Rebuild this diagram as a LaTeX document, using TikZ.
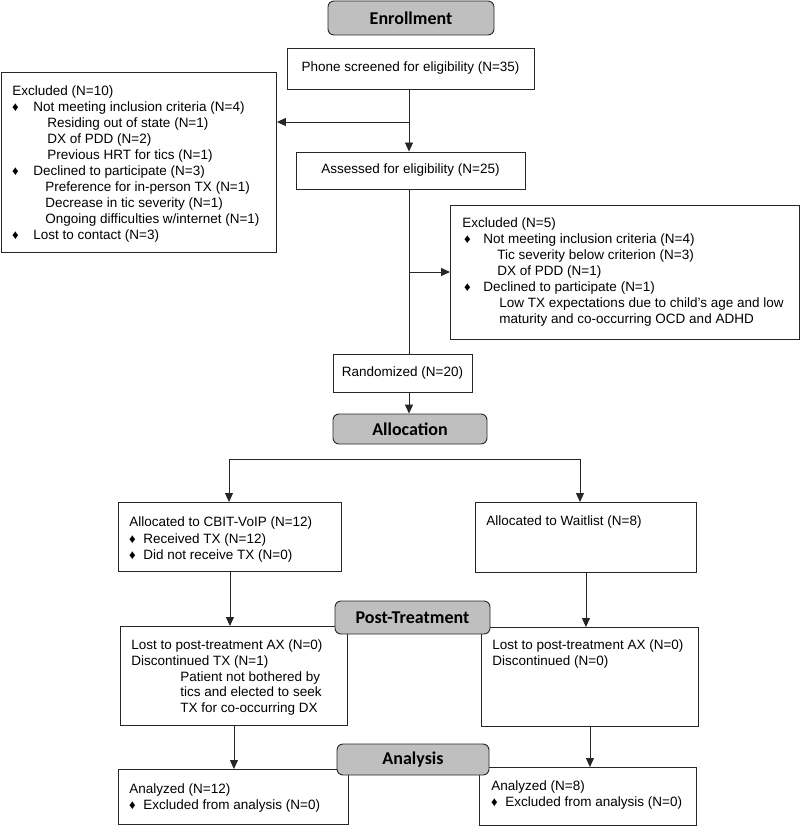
\documentclass[tikz,border=0pt]{standalone}
\usepackage{fontspec}
\setmainfont{Liberation Sans}
\newfontfamily\headfont{Carlito}
\usepackage{tikz}
\usetikzlibrary{arrows.meta}
\colorlet{linegray}{black!85}
\colorlet{headgray}{gray!50}
\newcommand\dmd{\makebox[0pt]{\fontsize{13}{13}\selectfont\raisebox{0pt}{♦}}}
\newcommand\boxtext[4]{\parbox[c][#2][t]{#1}{\rule{0pt}{#3}#4}}
\newcommand\indt[1]{\hspace*{#1}}
\newcommand\bull[2]{\hspace*{#1}\dmd\hspace*{\dimexpr#2-#1\relax}}
\tikzstyle{line}=[line width=.9pt,draw=linegray]
\tikzstyle{arr} =[line,-{Triangle[length=9pt,width=8pt]}]
\tikzstyle{arr2}=[line,{Triangle[length=9pt,width=8pt]}-{Triangle[length=9pt,width=8pt]}]
\tikzstyle{box} =[line,inner sep=0pt,anchor=north west,font=\fontsize{13.5}{16}\selectfont]
\tikzstyle{cbox}=[line,inner sep=0pt,font=\fontsize{13.5}{16}\selectfont]
\tikzstyle{head}=[line,fill=headgray,rounded corners=6pt,inner sep=0pt,font=\headfont\bfseries\fontsize{18}{18}\selectfont]

\begin{document}
\begin{tikzpicture}[x=1pt,y=-1pt]
	\useasboundingbox (0,0) rectangle (800,826);
	% enrollment
	\node[cbox,minimum width=247pt,minimum height=41pt] (phone) at (410.5,68.5) {Phone screened for eligibility (N=35)};
	\node[box] (exclA) at (1,72) {\boxtext{275pt}{180pt}{23.5pt}{%
		\indt{11pt}Excluded (N=10)\\
		\bull{14pt}{32pt}Not meeting inclusion criteria (N=4)\\
		\indt{46pt}Residing out of state (N=1)\\
		\indt{46pt}DX of PDD (N=2)\\
		\indt{46pt}Previous HRT for tics (N=1)\\
		\bull{14pt}{32pt}Declined to participate (N=3)\\
		\indt{44pt}Preference for in-person TX (N=1)\\
		\indt{44pt}Decrease in tic severity (N=1)\\
		\indt{44pt}Ongoing difficulties w/internet (N=1)\\
		\bull{14pt}{32pt}Lost to contact (N=3)}};
	\node[cbox,minimum width=229pt,minimum height=37pt] (assess) at (410.5,170.5) {Assessed for eligibility (N=25)};
	\node[box] (exclB) at (450,205) {\boxtext{349pt}{134pt}{22pt}{%
		\indt{12pt}Excluded (N=5)\\
		\bull{17pt}{33pt}Not meeting inclusion criteria (N=4)\\
		\indt{47pt}Tic severity below criterion (N=3)\\
		\indt{47pt}DX of PDD (N=1)\\
		\bull{17pt}{33pt}Declined to participate (N=1)\\
		\indt{49pt}Low TX expectations due to child’s age and low\\
		\indt{49pt}maturity and co-occurring OCD and ADHD}};
	\node[cbox,minimum width=139pt,minimum height=38pt] (random) at (402.5,373) {Randomized (N=20)};
	% allocation
	\node[box,font=\fontsize{13.5}{16.7}\selectfont] (cbit) at (118,502) {\boxtext{223pt}{69pt}{24pt}{%
		\indt{11pt}Allocated to CBIT-VoIP (N=12)\\
		\bull{14pt}{25pt}Received TX (N=12)\\
		\bull{14pt}{25pt}Did not receive TX (N=0)}};
	\node[box] (wait) at (475,502) {\boxtext{221pt}{70pt}{23pt}{%
		\indt{11pt}Allocated to Waitlist (N=8)}};
	% post-treatment
	\node[box,font=\fontsize{13.5}{15.8}\selectfont] (postL) at (120,626) {\boxtext{227pt}{99pt}{23pt}{%
		\indt{11pt}Lost to post-treatment AX (N=0)\\
		\indt{11pt}Discontinued TX (N=1)\\
		\indt{60pt}Patient not bothered by\\
		\indt{60pt}tics and elected to seek\\
		\indt{60pt}TX for co-occurring DX}};
	\node[box,font=\fontsize{13.5}{15.8}\selectfont] (postR) at (481,627) {\boxtext{217pt}{99pt}{22.5pt}{%
		\indt{11pt}Lost to post-treatment AX (N=0)\\
		\indt{11pt}Discontinued (N=0)}};
	% analysis
	\node[box] (anaL) at (118,769) {\boxtext{230pt}{55pt}{24pt}{%
		\indt{11pt}Analyzed (N=12)\\
		\bull{14pt}{25pt}Excluded from analysis (N=0)}};
	\node[box] (anaR) at (479,767) {\boxtext{217pt}{58pt}{23pt}{%
		\indt{12pt}Analyzed (N=8)\\
		\bull{15pt}{26pt}Excluded from analysis (N=0)}};
	% phase headers
	\node[head,minimum width=166pt,minimum height=34pt] (enroll) at (411,18) {Enrollment};
	\node[head,minimum width=154pt,minimum height=30pt] (alloc) at (410,429) {Allocation};
	\node[head,minimum width=155pt,minimum height=33pt] (post) at (412.5,617.5) {Post-Treatment};
	\node[head,minimum width=152pt,minimum height=31pt] (anal) at (413,759.5) {Analysis};
	% connectors
	\coordinate (brA) at (409,122);
	\coordinate (brB) at (409,272);
	\coordinate (splitL) at (229,459);
	\coordinate (splitR) at (580,459);
	\draw[arr]  (phone.south -| brA) -- (assess.north -| brA);
	\draw[arr]  (brA) -- (exclA.east |- brA);
	\draw[line] (assess.south -| brB) -- (random.north -| brB);
	\draw[arr]  (brB) -- (exclB.west |- brB);
	\draw[arr]  (random.south -| brB) -- (alloc.north -| brB);
	\draw[arr2] (cbit.north -| splitL) -- (splitL) -- (splitR) -- (wait.north -| splitR);
	\draw[arr]  (cbit.south) -- (cbit.south |- postL.north);
	\draw[arr]  (wait.south) -- (wait.south |- postR.north);
	\draw[arr]  (postL.south) -- (postL.south |- anaL.north);
	\draw[arr]  (postR.south) -- (postR.south |- anaR.north);
\end{tikzpicture}
\end{document}
